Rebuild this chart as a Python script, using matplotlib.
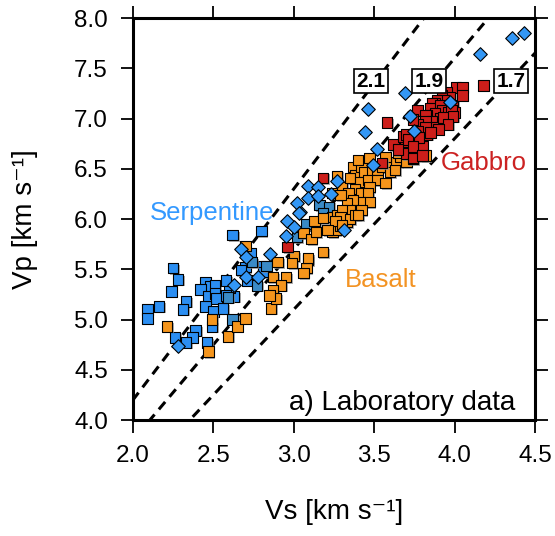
import numpy as np
import matplotlib
matplotlib.use("Agg")
import matplotlib.pyplot as plt
import matplotlib.patheffects as pe

plt.rcParams['font.family'] = ['Liberation Sans', 'DejaVu Sans']

# Serpentine diamonds (Vs, Vp)
serp_d_vs = [4.43, 4.36, 4.16, 3.97, 3.72, 3.75, 3.69, 3.46, 3.44, 3.52, 3.49, 3.27, 3.09, 3.15,
             3.23, 3.09, 3.15, 3.04, 3.31, 3.02, 3.03, 2.96, 3.00, 2.95, 2.85, 2.67, 2.70, 2.70,
             2.78, 2.63, 2.28]
serp_d_vp = [7.85, 7.80, 7.64, 7.16, 7.02, 6.88, 7.25, 7.09, 6.87, 6.70, 6.54, 6.38, 6.33, 6.32,
             6.25, 6.21, 6.23, 6.07, 5.89, 6.16, 6.06, 5.98, 5.92, 5.83, 5.65, 5.70, 5.62, 5.42,
             5.42, 5.34, 4.74]

# Serpentine squares
serp_vs = [2.25, 2.28, 2.24, 2.09, 2.09, 2.16, 2.33, 2.31, 2.45, 2.48, 2.42, 2.51, 2.47, 2.51,
           2.52, 2.45, 2.50, 2.56, 2.60, 2.63, 2.62, 2.80, 2.73, 2.70, 2.81, 2.67, 2.71, 2.49,
           2.39, 2.37, 2.33, 2.26, 2.46, 2.60, 2.81, 2.58, 2.58]
serp_vp = [5.51, 5.40, 5.28, 5.10, 5.01, 5.13, 5.18, 5.10, 5.37, 5.33, 5.30, 5.34, 5.23, 5.26,
           5.21, 5.13, 5.08, 5.11, 5.24, 5.23, 5.84, 5.88, 5.66, 5.52, 5.53, 5.49, 5.39, 4.93,
           4.89, 4.82, 4.77, 4.82, 4.77, 5.32, 5.47, 5.39, 5.24]

# Serpentine squares, second set (darker blue)
serp2_vs = [2.74, 2.83, 2.77, 2.62, 3.08, 3.02, 2.59, 3.16, 3.22, 3.18]
serp2_vp = [5.57, 5.53, 5.34, 5.00, 5.95, 5.82, 5.22, 6.14, 6.12, 6.06]

# Basalt
bas_vs = [2.21, 2.47, 2.49, 2.59, 2.65, 2.70, 2.86, 2.70, 2.87, 2.95, 2.90, 3.00, 2.99, 2.92,
          2.87, 2.89, 2.85, 3.09, 3.08, 3.06, 3.18, 3.06, 3.11, 3.13, 3.14, 3.24, 3.24, 3.26,
          3.27, 3.18, 3.24, 3.30, 3.34, 3.32, 3.27, 3.29, 3.33, 3.27, 3.37, 3.38, 3.42, 3.44,
          3.49, 3.52, 3.55, 3.60, 3.60, 3.64, 3.63, 3.66, 3.70, 3.65, 3.82, 3.35, 3.41, 3.46,
          3.52, 3.57, 3.47, 3.38, 3.34, 3.42, 3.46, 3.47, 3.41, 3.37, 3.33, 3.29, 3.42, 3.35,
          3.30, 3.29, 3.35, 3.38, 3.26, 3.30, 3.09, 3.40, 3.21, 3.40, 3.47, 3.57]
bas_vp = [4.93, 4.68, 5.00, 4.83, 4.93, 5.01, 5.11, 5.73, 5.42, 5.42, 5.57, 5.63, 5.56, 5.34,
          5.29, 5.21, 5.24, 5.59, 5.51, 5.46, 5.67, 5.86, 5.80, 5.98, 5.87, 6.02, 5.87, 5.89,
          5.98, 6.01, 6.26, 6.32, 6.21, 6.04, 6.04, 5.93, 5.97, 6.43, 6.52, 6.44, 6.52, 6.47,
          6.47, 6.49, 6.52, 6.54, 6.47, 6.57, 6.49, 6.62, 6.57, 6.66, 6.63, 6.41, 6.37, 6.39,
          6.39, 6.36, 6.32, 6.30, 6.26, 6.26, 6.26, 6.17, 6.17, 6.19, 6.16, 6.24, 6.09, 6.09,
          6.09, 6.02, 6.00, 6.04, 5.98, 5.94, 5.61, 6.04, 5.89, 6.59, 6.61, 6.62]

# Gabbro
gab_vs = [2.96, 3.18, 3.62, 3.69, 3.74, 3.78, 3.80, 3.70, 3.74, 3.55, 3.68, 4.01, 4.05, 4.18,
          3.95, 3.97, 3.92, 3.93, 3.89, 3.88, 3.86, 3.85, 3.91, 3.99, 3.92, 3.96, 4.00, 3.88,
          3.83, 3.77, 3.82, 3.91, 3.86, 3.82, 3.77, 3.74, 3.88, 3.83, 3.80, 3.82, 3.77, 3.74,
          3.70, 3.71, 3.78, 3.74, 3.58, 3.74, 3.80, 3.98, 3.93, 3.99, 3.96, 3.90, 3.85, 3.65,
          4.05]
gab_vp = [5.72, 6.41, 6.74, 6.77, 6.82, 6.82, 6.72, 6.65, 6.60, 6.56, 6.82, 7.31, 7.31, 7.33,
          7.26, 7.21, 7.23, 7.18, 7.18, 7.15, 7.15, 7.10, 7.13, 7.13, 7.08, 7.06, 7.06, 7.05,
          7.03, 7.08, 7.03, 7.00, 6.97, 6.97, 6.94, 6.99, 6.91, 6.84, 6.86, 6.91, 6.87, 6.84,
          6.84, 6.79, 6.81, 6.72, 6.96, 6.61, 6.63, 7.08, 7.01, 7.02, 6.94, 6.89, 6.86, 6.69,
          7.23]

# Vp/Vs ratio lines
ratios = [2.1, 1.9, 1.7]
ratio_label_vs = [3.48, 3.84, 4.35]
ratio_label_vp = 7.37

fig = plt.figure(figsize=(5.55, 5.36), dpi=100)
ax = fig.add_axes([0.2396, 0.2164, 0.7243, 0.75])

vs_line = np.array([1.5, 5.0])
for r in ratios:
    ax.plot(vs_line, r * vs_line, color='black', lw=2.2, dashes=(3.2, 2.2), zorder=1)

shadow = [pe.SimplePatchShadow(offset=(1.2, -1.2), shadow_rgbFace='0.55', alpha=0.7), pe.Normal()]

ax.scatter(serp_vs, serp_vp, marker='s', s=56, color='#2b8ef2', edgecolor='black',
           linewidth=0.8, zorder=2, path_effects=shadow)
ax.scatter(serp2_vs, serp2_vp, marker='s', s=56, color='#3a8ac6', edgecolor='black',
           linewidth=0.8, zorder=2, path_effects=shadow)
ax.scatter(bas_vs, bas_vp, marker='s', s=56, color='#f5951c', edgecolor='black',
           linewidth=0.8, zorder=3, path_effects=shadow)
ax.scatter(gab_vs, gab_vp, marker='s', s=56, color='#cc1e1a', edgecolor='black',
           linewidth=0.8, zorder=4, path_effects=shadow)
ax.scatter(serp_d_vs, serp_d_vp, marker='D', s=48, color='#3397f5', edgecolor='black',
           linewidth=0.8, zorder=5)

for r, x in zip(ratios, ratio_label_vs):
    ax.text(x, ratio_label_vp, f"{r:.1f}", fontsize=15, fontweight='bold', ha='center',
            va='center', zorder=6,
            bbox=dict(boxstyle='square,pad=0.12', facecolor='white', edgecolor='black', lw=1.2))

ax.text(2.49, 6.06, "Serpentine", color='#3399ff', fontsize=18.5, ha='center', va='center')
ax.text(3.54, 5.39, "Basalt", color='#f39323', fontsize=18.5, ha='center', va='center')
ax.text(4.18, 6.56, "Gabbro", color='#cc2222', fontsize=18.5, ha='center', va='center')
ax.text(4.375, 4.17, "a) Laboratory data", color='black', fontsize=20, ha='right', va='center',
        zorder=7)

ax.set_xlim(2.0, 4.5)
ax.set_ylim(4.0, 8.0)
ax.set_xticks([2.0, 2.5, 3.0, 3.5, 4.0, 4.5])
ax.set_yticks([4.0, 4.5, 5.0, 5.5, 6.0, 6.5, 7.0, 7.5, 8.0])
ax.xaxis.set_major_formatter(matplotlib.ticker.FormatStrFormatter('%.1f'))
ax.yaxis.set_major_formatter(matplotlib.ticker.FormatStrFormatter('%.1f'))
ax.tick_params(direction='out', length=9, width=1.3, labelsize=17.5, pad=9,
               top=True, right=True)
for sp in ax.spines.values():
    sp.set_linewidth(2.2)

ax.set_xlabel("Vs [km s\u207b\u00b9]", fontsize=20, labelpad=23)
ax.set_ylabel("Vp [km s\u207b\u00b9]", fontsize=20, labelpad=26)

fig.savefig("out.png", dpi=100)
